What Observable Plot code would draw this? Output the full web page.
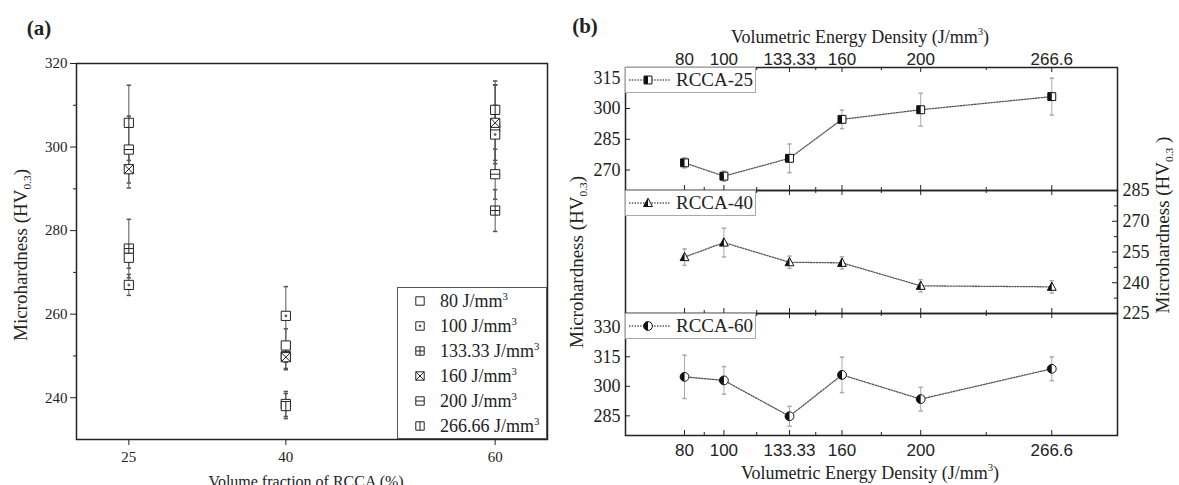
<!DOCTYPE html>
<html><head><meta charset="utf-8">
<script src="https://cdn.jsdelivr.net/npm/d3@7"></script>
<script src="https://cdn.jsdelivr.net/npm/@observablehq/plot@0.6"></script>
<style>
body{margin:0;background:#fff;}
#root{position:relative;width:1179px;height:485px;overflow:hidden;background:#fff;font-family:"Liberation Serif",serif;color:#222;}
#root svg.plt{position:absolute;left:0;top:0;overflow:visible;background:transparent !important;}
.t{position:absolute;white-space:nowrap;line-height:1;}
.t sub{font-size:0.6em;vertical-align:-0.3em;}
.t sup{font-size:0.6em;vertical-align:0.65em;}
.lgA{position:absolute;border:1px solid #555;background:#fff;display:flex;flex-direction:column;justify-content:space-around;box-sizing:border-box;}
.lgA div{display:flex;align-items:center;height:20px;}
.lgB{position:absolute;border:1px solid #aaa;background:#fff;display:flex;align-items:center;box-sizing:border-box;font-size:19px;}
</style></head><body><div id="root"></div>
<script>
// ---------- data ----------
const energies = [80, 100, 133.33, 160, 200, 266.6];
const energyTickLabels = ["80", "100", "133.33", "160", "200", "266.6"];
const energyMinorTicks = [90, 116.67, 146.67, 180, 233.3];
const legendLabelsA = ["80", "100", "133.33", "160", "200", "266.66"];
const fractions = [25, 40, 60];
const rcca25 = [273.5, 267.0, 275.7, 294.7, 299.4, 305.8];
const err25  = [2.5, 2.5, 7, 4.5, 8, 9];
const rcca40 = [252.5, 259.6, 250.0, 249.7, 238.5, 238.0];
const err40  = [4, 7, 3, 3, 3, 3];
const rcca60 = [304.8, 303.0, 284.8, 305.8, 293.5, 308.9];
const err60  = [11, 7, 5, 9, 6, 6];
const seriesNames = ["RCCA-25", "RCCA-40", "RCCA-60"];
const yTicksA = [240, 260, 280, 300, 320];
const yMinorA = [250, 270, 290, 310];
const yTicksTop = [270, 285, 300, 315];
const yTicksMid = [225, 240, 255, 270, 285];
const yMinorMid = [232.5, 247.5, 262.5, 277.5];
const yTicksBot = [285, 300, 315, 330];

// ---------- symbols ----------
const R = s => Math.sqrt(s / Math.PI);
function sq(c, h) { c.moveTo(-h, -h); c.lineTo(h, -h); c.lineTo(h, h); c.lineTo(-h, h); c.closePath(); }
const symA = [
  {draw(c, s) { sq(c, R(s)); }},
  {draw(c, s) { const h = R(s); sq(c, h); c.moveTo(0.9, 0); c.arc(0, 0, 0.9, 0, 2 * Math.PI); }},
  {draw(c, s) { const h = R(s); sq(c, h); c.moveTo(0, -h); c.lineTo(0, h); c.moveTo(-h, 0); c.lineTo(h, 0); }},
  {draw(c, s) { const h = R(s); sq(c, h); c.moveTo(-h, -h); c.lineTo(h, h); c.moveTo(h, -h); c.lineTo(-h, h); }},
  {draw(c, s) { const h = R(s); sq(c, h); c.moveTo(-h, 0); c.lineTo(h, 0); }},
  {draw(c, s) { const h = R(s); sq(c, h); c.moveTo(0, -h); c.lineTo(0, h); }}
];
const capSym = {draw(c, s) { const h = R(s); c.moveTo(-h, 0); c.lineTo(h, 0); }};
const baseB = [
  {draw(c, s) { sq(c, R(s) * 0.9); }},
  {draw(c, s) { const h = R(s); c.moveTo(0, -h * 1.1); c.lineTo(h, h * 0.8); c.lineTo(-h, h * 0.8); c.closePath(); }},
  {draw(c, s) { const h = R(s); c.moveTo(h, 0); c.arc(0, 0, h, 0, 2 * Math.PI); }}
];
const halfB = [
  {draw(c, s) { const h = R(s) * 0.9; c.moveTo(-h, -h); c.lineTo(0, -h); c.lineTo(0, h); c.lineTo(-h, h); c.closePath(); }},
  {draw(c, s) { const h = R(s); c.moveTo(0, -h * 1.1); c.lineTo(0, h * 0.8); c.lineTo(-h, h * 0.8); c.closePath(); }},
  {draw(c, s) { const h = R(s); c.moveTo(0, -h); c.arc(0, 0, h, -Math.PI / 2, Math.PI / 2, true); c.closePath(); }}
];
function symPath(sym, size) { const p = d3.path(); sym.draw(p, size); return p.toString(); }

const root = document.getElementById("root");
function addText(html, x, y, opts = {}) {
  const d = document.createElement("div");
  d.className = "t";
  d.innerHTML = html;
  d.style.left = x + "px"; d.style.top = y + "px";
  d.style.fontSize = (opts.size || 17) + "px";
  if (opts.bold) d.style.fontWeight = "bold";
  d.style.transform = "translate(-50%,-50%)" + (opts.rot ? ` rotate(${opts.rot}deg)` : "");
  root.appendChild(d);
  return d;
}
function addPlot(svg) { svg.classList.add("plt"); root.appendChild(svg); }

// ---------- panel (a) ----------
const rowsA = [];
[rcca25, rcca40, rcca60].forEach((vals, i) => {
  const errs = [err25, err40, err60][i];
  energies.forEach((e, j) => rowsA.push({f: fractions[i], j, v: vals[j], e: errs[j]}));
});
const serif = "Liberation Serif";
addPlot(Plot.plot({
  width: 560, height: 485,
  marginTop: 63, marginRight: 13, marginBottom: 46, marginLeft: 76,
  style: {background: "transparent", overflow: "visible", fontFamily: serif, fontSize: "15px", color: "#222"},
  x: {domain: [20, 65], axis: null},
  y: {domain: [230, 320], axis: null},
  marks: [
    Plot.axisY(yTicksA, {tickSize: 6, tickPadding: 3, label: null, fontSize: 15, fontFamily: serif}),
    Plot.axisY(yMinorA, {tickSize: 3, tickFormat: () => "", label: null}),
    Plot.axisX(fractions, {tickSize: 6, tickPadding: 6, label: null, fontSize: 15, fontFamily: serif}),
    Plot.ruleX(rowsA, {x: "f", y1: d => d.v - d.e, y2: d => d.v + d.e, stroke: "#555"}),
    Plot.dot(rowsA, {x: "f", y: d => d.v + d.e, symbol: capSym, r: 2.2, stroke: "#555", fill: "none"}),
    Plot.dot(rowsA, {x: "f", y: d => d.v - d.e, symbol: capSym, r: 2.2, stroke: "#555", fill: "none"}),
    ...energies.map((_, j) => Plot.dot(rowsA.filter(d => d.j === j), {x: "f", y: "v", symbol: symA[j], r: 4.6, stroke: "#222", fill: "white", strokeWidth: 1})),
    Plot.frame({stroke: "#222", strokeWidth: 1.5})
  ]
}));

// legend (a)
const lgA = document.createElement("div");
lgA.className = "lgA";
Object.assign(lgA.style, {left: "397px", top: "287px", width: "150px", height: "152px"});
legendLabelsA.forEach((lab, j) => {
  const row = document.createElement("div");
  row.innerHTML = `<svg width="42" height="20" style="position:static"><path transform="translate(22,10)" d="${symPath(symA[j], Math.PI * 4.2 * 4.2)}" fill="white" stroke="#222"/></svg><span class="t" style="position:static;font-size:18px">${lab} J/mm<sup>3</sup></span>`;
  lgA.appendChild(row);
});
root.appendChild(lgA);

addText("(a)", 39, 28, {size: 21, bold: true});
addText("Microhardness (HV<sub>0.3</sub>)", 22, 255, {size: 19, rot: -90});
addText("Volume fraction of RCCA (%)", 306, 482, {size: 16});

// ---------- panel (b) ----------
const bW = 619, bML = 65, bMR = 62, innerW = bW - bML - bMR;
const panels = [
  {vals: rcca25, errs: err25, domain: [260, 320], top: 67, bottom: 190, left: yTicksTop},
  {vals: rcca40, errs: err40, domain: [225, 285], top: 190, bottom: 313, right: yTicksMid},
  {vals: rcca60, errs: err60, domain: [275, 337], top: 313, bottom: 435, left: yTicksBot}
];
panels.forEach((p, i) => {
  const rows = energies.map((e, j) => ({x: e, v: p.vals[j], e: p.errs[j]}));
  const innerH = p.bottom - p.top;
  const marks = [
    Plot.tickX(energies, {x: d => d, insetBottom: innerH - 5, stroke: "#222"}),
    Plot.tickX(energyMinorTicks, {x: d => d, insetBottom: innerH - 3, stroke: "#222"}),
    Plot.tickX(energies, {x: d => d, insetTop: innerH - 5, stroke: "#222"}),
    Plot.tickX(energyMinorTicks, {x: d => d, insetTop: innerH - 3, stroke: "#222"}),
    Plot.ruleX(rows, {x: "x", y1: d => d.v - d.e, y2: d => d.v + d.e, stroke: "#aaa"}),
    Plot.dot(rows, {x: "x", y: d => d.v + d.e, symbol: capSym, r: 2.2, stroke: "#aaa", fill: "none"}),
    Plot.dot(rows, {x: "x", y: d => d.v - d.e, symbol: capSym, r: 2.2, stroke: "#aaa", fill: "none"}),
    Plot.line(rows, {x: "x", y: "v", stroke: "#555", strokeWidth: 1.3, strokeDasharray: "1.4 1.4"}),
    Plot.dot(rows, {x: "x", y: "v", symbol: baseB[i], r: 4.4, fill: "white", stroke: "#111", strokeWidth: 1}),
    Plot.dot(rows, {x: "x", y: "v", symbol: halfB[i], r: 4.4, fill: "#111", stroke: "none"}),
    Plot.frame({stroke: "#222", strokeWidth: 1.5})
  ];
  if (p.left) {
    marks.push(Plot.axisY(p.left, {anchor: "left", tickSize: 0, tickPadding: 5, label: null, fontSize: 18, fontFamily: serif}));
    marks.push(Plot.tickY(p.left, {y: d => d, insetRight: innerW - 5, stroke: "#222"}));
  }
  if (p.right) {
    marks.push(Plot.axisY(p.right, {anchor: "right", tickSize: 0, tickPadding: 5, label: null, fontSize: 18, fontFamily: serif}));
    marks.push(Plot.tickY(p.right, {y: d => d, insetLeft: innerW - 5, stroke: "#222"}));
    marks.push(Plot.tickY(yMinorMid, {y: d => d, insetLeft: innerW - 3, stroke: "#222"}));
  }
  const fmt = d => energyTickLabels[energies.indexOf(d)];
  if (i === 0) marks.push(Plot.axisX(energies, {anchor: "top", tickSize: 0, tickPadding: 3, tickFormat: fmt, label: null, fontSize: 17, fontFamily: "Liberation Sans"}));
  if (i === 2) marks.push(Plot.axisX(energies, {anchor: "bottom", tickSize: 0, tickPadding: 8, tickFormat: fmt, label: null, fontSize: 17, fontFamily: "Liberation Sans"}));
  const svg = Plot.plot({
    width: bW, height: 485,
    marginTop: p.top, marginBottom: 485 - p.bottom, marginLeft: bML, marginRight: bMR,
    style: {background: "transparent", overflow: "visible", fontFamily: serif, fontSize: "17px", color: "#222"},
    x: {domain: [50, 300], axis: null},
    y: {domain: p.domain, axis: null},
    marks
  });
  svg.style.left = "560px";
  addPlot(svg);

  // series legend box
  const lg = document.createElement("div");
  lg.className = "lgB";
  Object.assign(lg.style, {left: "625px", top: p.top + "px", width: "131px", height: "26px"});
  const sz = Math.PI * 4.4 * 4.4;
  lg.innerHTML = `<svg width="50" height="24" style="position:static"><line x1="3" x2="44" y1="12" y2="12" stroke="#555" stroke-width="1.3" stroke-dasharray="1.4 1.4"/><path transform="translate(22,12)" d="${symPath(baseB[i], sz)}" fill="white" stroke="#111"/><path transform="translate(22,12)" d="${symPath(halfB[i], sz)}" fill="#111"/></svg><span>${seriesNames[i]}</span>`;
  root.appendChild(lg);
});

addText("(b)", 585, 26, {size: 21, bold: true});
addText("Volumetric Energy Density (J/mm<sup>3</sup>)", 860, 36, {size: 18});
addText("Volumetric Energy Density (J/mm<sup>3</sup>)", 870, 472, {size: 18});
addText("Microhardness (HV<sub>0.3</sub>)", 578, 262, {size: 19, rot: -90});
addText("Microhardness (HV<sub>0.3</sub> )", 1164, 225, {size: 19, rot: -90});
</script></body></html>
